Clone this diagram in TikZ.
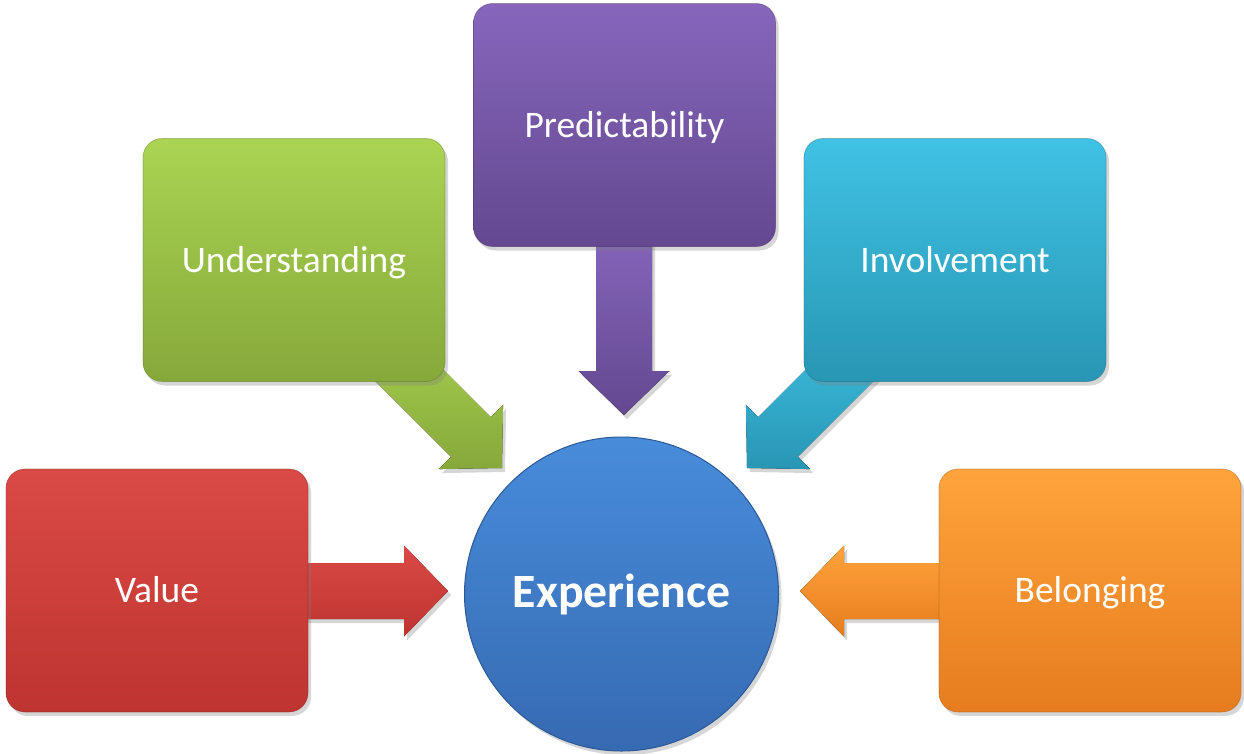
\documentclass[tikz,border=0pt]{standalone}
\usepackage{fontspec}
\setmainfont{Carlito}
\usetikzlibrary{shadows}
\definecolor{redT}{RGB}{218,74,70}
\definecolor{redB}{RGB}{190,52,48}
\definecolor{greenT}{RGB}{170,212,82}
\definecolor{greenB}{RGB}{134,168,58}
\definecolor{purpleT}{RGB}{134,102,188}
\definecolor{purpleB}{RGB}{100,72,144}
\definecolor{tealT}{RGB}{64,194,228}
\definecolor{tealB}{RGB}{40,150,180}
\definecolor{orangeT}{RGB}{255,164,60}
\definecolor{orangeB}{RGB}{230,124,30}
\definecolor{blueT}{RGB}{72,140,218}
\definecolor{blueB}{RGB}{54,106,178}
\definecolor{blueE}{RGB}{44,88,150}
\tikzset{
  shd/.style={drop shadow={opacity=0.32, shadow xshift=3pt, shadow yshift=-4pt}},
  box/.style={rounded corners=19pt, minimum width=302pt, minimum height=243pt,
    inner sep=0pt, text=white, font=\fontsize{37.5}{44}\selectfont,
    text height=30pt, text depth=6pt, draw opacity=0.45, line width=0.7pt, shd},
  blockarrow/.style={shd},
  hub/.style={circle, minimum size=314pt, inner sep=0pt, text=white,
    font=\fontsize{47.8}{54}\selectfont\bfseries, draw=blueE, line width=1pt,
    top color=blueT, bottom color=blueB, shd}
}
\newcommand{\blockarr}[4]{% tip, angle, top color, bottom color
  \begin{scope}[shift={#1}, rotate=#2]
    \fill[blockarrow, top color=#3, bottom color=#4]
      (0,0) -- (-44,45.5) -- (-44,28) -- (-190,28) -- (-190,-28)
      -- (-44,-28) -- (-44,-45.5) -- cycle;
  \end{scope}}
\begin{document}
\begin{tikzpicture}[x=1pt,y=-1pt]
\useasboundingbox (0,0) rectangle (1244,753);
\coordinate (tipV) at (448,591);
\coordinate (tipU) at (502,468);
\coordinate (tipP) at (624,415);
\coordinate (tipI) at (747,468);
\coordinate (tipB) at (800,591);
% block arrows (behind the boxes)
\blockarr{(tipV)}{0}{redT}{redB}
\blockarr{(tipU)}{-45}{greenT}{greenB}
\blockarr{(tipP)}{-90}{purpleT}{purpleB}
\blockarr{(tipI)}{-135}{tealT}{tealB}
\blockarr{(tipB)}{180}{orangeT}{orangeB}
% boxes
\node[box, top color=redT, bottom color=redB, draw=redB!70!black] (val) at (157,590.5) {Value};
\node[box, top color=greenT, bottom color=greenB, draw=greenB!70!black] (und) at (294,260) {Understanding};
\node[box, top color=purpleT, bottom color=purpleB, draw=purpleB!70!black] (pre) at (624.5,125) {Predictability};
\node[box, top color=tealT, bottom color=tealB, draw=tealB!70!black] (inv) at (955,260) {Involvement};
\node[box, top color=orangeT, bottom color=orangeB, draw=orangeB!70!black] (bel) at (1090,590.5) {Belonging};
% hub
\node[hub, yshift=-2pt] (exp) at (621.5,592) {Experience};
\end{tikzpicture}
\end{document}
